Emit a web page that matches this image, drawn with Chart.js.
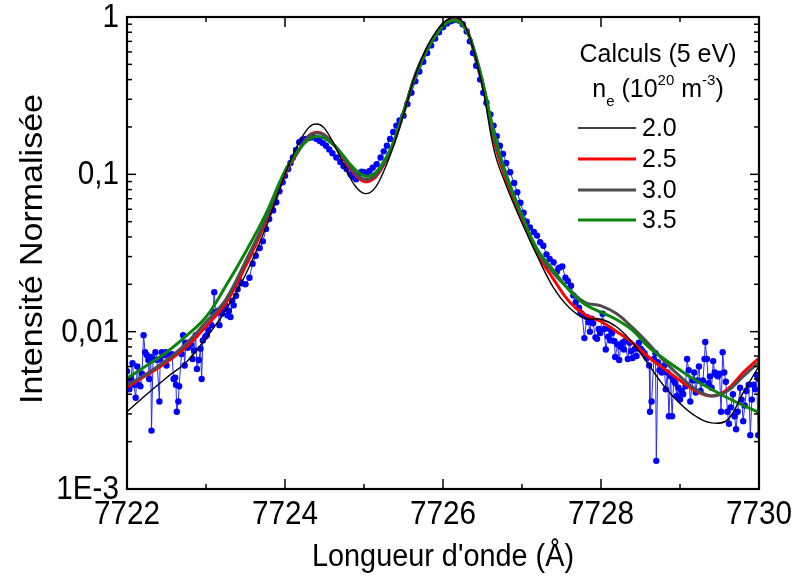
<!DOCTYPE html>
<html>
<head>
<meta charset="utf-8">
<script src="https://cdn.jsdelivr.net/npm/chart.js@4.4.1/dist/chart.umd.min.js"></script>
<style>
  html, body { margin: 0; padding: 0; background: #fff; }
  #wrap { width: 795px; height: 582px; position: relative; }
</style>
</head>
<body>
<div id="wrap"><canvas id="chart"></canvas></div>
<script>
// Measured spectrum: [wavelength (Å), normalised intensity]
const measured = [
  [7722.00,0.0056],[7722.03,0.0043],[7722.05,0.0050],[7722.07,0.0063],[7722.09,0.0046],[7722.11,0.0038],
  [7722.13,0.0060],[7722.15,0.0046],[7722.17,0.0045],[7722.19,0.0054],[7722.21,0.0095],[7722.23,0.0074],
  [7722.25,0.0071],[7722.27,0.0066],[7722.28,0.0050],[7722.30,0.0069],[7722.31,0.00235],[7722.33,0.0067],
  [7722.36,0.0074],[7722.38,0.0066],[7722.41,0.0036],[7722.42,0.0067],[7722.44,0.0074],[7722.47,0.0071],
  [7722.49,0.0074],[7722.50,0.0061],[7722.53,0.0071],[7722.55,0.0069],[7722.57,0.0072],[7722.59,0.0050],
  [7722.61,0.0051],[7722.62,0.0046],[7722.63,0.0031],[7722.65,0.0036],[7722.66,0.0045],[7722.69,0.0072],
  [7722.71,0.0095],[7722.73,0.0061],[7722.745,0.0085],[7722.77,0.0079],[7722.79,0.0085],[7722.81,0.0083],
  [7722.83,0.0067],[7722.85,0.0076],[7722.87,0.0095],[7722.885,0.0058],[7722.91,0.0066],[7722.93,0.0078],
  [7722.945,0.0050],[7722.96,0.0088],[7722.99,0.0093],[7723.01,0.0095],[7723.03,0.0102],[7723.07,0.0110],
  [7723.085,0.0133],[7723.105,0.0178],[7723.12,0.0133],[7723.155,0.0136],[7723.17,0.0110],[7723.20,0.0130],
  [7723.23,0.0140],[7723.25,0.0147],[7723.27,0.0127],[7723.29,0.0136],[7723.31,0.0124],[7723.33,0.0157],
  [7723.35,0.0147],[7723.38,0.0169],[7723.40,0.0186],[7723.42,0.0211],[7723.45,0.0203],[7723.50,0.0200],
  [7723.55,0.0220],[7723.59,0.0270],[7723.63,0.0304],[7723.68,0.0340],[7723.72,0.0375],[7723.76,0.0450],
  [7723.80,0.052],[7723.85,0.059],[7723.89,0.0665],[7723.93,0.078],[7723.97,0.089],[7724.00,0.098],
  [7724.04,0.108],[7724.07,0.118],[7724.10,0.128],[7724.14,0.143],[7724.18,0.160],[7724.22,0.166],
  [7724.26,0.168],[7724.31,0.171],[7724.35,0.172],[7724.40,0.168],[7724.44,0.163],[7724.48,0.158],
  [7724.52,0.152],[7724.56,0.144],[7724.60,0.136],[7724.65,0.128],[7724.70,0.120],[7724.74,0.113],
  [7724.78,0.108],[7724.83,0.100],[7724.87,0.096],[7724.90,0.093],[7724.94,0.101],[7724.97,0.104],
  [7725.00,0.103],[7725.03,0.100],[7725.07,0.105],[7725.11,0.110],[7725.16,0.116],[7725.21,0.128],
  [7725.25,0.140],[7725.29,0.152],[7725.33,0.168],[7725.37,0.186],[7725.41,0.204],[7725.45,0.220],
  [7725.50,0.236],[7725.55,0.28],[7725.60,0.33],[7725.65,0.39],[7725.70,0.45],[7725.75,0.52],
  [7725.80,0.59],[7725.85,0.66],[7725.90,0.73],[7725.95,0.80],[7726.00,0.86],[7726.05,0.91],
  [7726.10,0.94],[7726.15,0.96],[7726.20,0.95],[7726.25,0.90],[7726.30,0.81],[7726.34,0.70],
  [7726.38,0.59],[7726.42,0.49],[7726.47,0.40],[7726.51,0.33],[7726.55,0.285],[7726.60,0.24],
  [7726.64,0.204],[7726.68,0.175],[7726.72,0.152],[7726.76,0.135],[7726.80,0.118],[7726.85,0.103],
  [7726.90,0.088],[7726.94,0.077],[7726.98,0.066],[7727.02,0.057],[7727.06,0.050],[7727.10,0.046],
  [7727.15,0.043],[7727.19,0.0408],[7727.23,0.037],[7727.27,0.0352],[7727.31,0.031],[7727.35,0.029],
  [7727.40,0.0276],[7727.44,0.024],[7727.47,0.0255],[7727.51,0.026],[7727.55,0.022],[7727.58,0.021],
  [7727.62,0.0196],[7727.65,0.0170],[7727.68,0.0154],[7727.72,0.0142],[7727.74,0.0132],[7727.76,0.0129],
  [7727.79,0.0091],[7727.82,0.0124],[7727.84,0.0115],[7727.86,0.0100],[7727.88,0.0121],[7727.90,0.0113],
  [7727.93,0.0092],[7727.95,0.0090],[7727.97,0.0104],[7727.99,0.0098],[7728.02,0.0130],[7728.04,0.0104],
  [7728.06,0.0077],[7728.09,0.0093],[7728.11,0.0104],[7728.12,0.0088],[7728.14,0.0098],[7728.17,0.0087],
  [7728.18,0.0069],[7728.21,0.0083],[7728.23,0.0066],[7728.25,0.0080],[7728.27,0.0085],[7728.29,0.0077],
  [7728.30,0.0087],[7728.34,0.0067],[7728.36,0.0085],[7728.38,0.0075],[7728.40,0.0068],[7728.43,0.0078],
  [7728.45,0.0070],[7728.48,0.0085],[7728.50,0.0078],[7728.52,0.0076],[7728.55,0.0073],[7728.58,0.0068],
  [7728.61,0.0061],[7728.62,0.0031],[7728.64,0.0036],[7728.67,0.0067],[7728.69,0.0073],[7728.70,0.00151],
  [7728.72,0.0064],[7728.74,0.0057],[7728.77,0.0055],[7728.80,0.0061],[7728.82,0.0043],[7728.84,0.0055],
  [7728.86,0.0029],[7728.88,0.0052],[7728.90,0.0029],[7728.92,0.0049],[7728.94,0.0047],[7728.96,0.0039],
  [7728.98,0.0044],[7729.00,0.0037],[7729.02,0.0042],[7729.04,0.0040],[7729.07,0.0045],[7729.09,0.0067],
  [7729.11,0.0057],[7729.13,0.0036],[7729.16,0.0049],[7729.18,0.0055],[7729.20,0.0041],[7729.22,0.0049],
  [7729.24,0.0060],[7729.26,0.0042],[7729.29,0.0049],[7729.31,0.0067],[7729.32,0.0086],[7729.34,0.0067],
  [7729.36,0.0047],[7729.38,0.0052],[7729.40,0.0044],[7729.42,0.0065],[7729.44,0.0055],[7729.46,0.0053],
  [7729.48,0.0052],[7729.50,0.0054],[7729.52,0.0031],[7729.54,0.0074],[7729.56,0.0055],[7729.58,0.0048],
  [7729.60,0.0031],[7729.62,0.0026],[7729.64,0.0033],[7729.67,0.0040],[7729.69,0.0029],[7729.71,0.0024],
  [7729.73,0.0031],[7729.76,0.0044],[7729.78,0.0037],[7729.80,0.0027],[7729.82,0.0034],[7729.84,0.0042],
  [7729.87,0.0046],[7729.89,0.0022],[7729.91,0.0037],[7729.93,0.0046],[7729.95,0.0043],[7729.97,0.0053],
  [7729.99,0.0022],[7730.00,0.0050]
];

// Calculated profiles (5 eV), sampled on a common wavelength grid
const calcLambda = [
  7722, 7722.25, 7722.5, 7722.75, 7723, 7723.25, 7723.5, 7723.75, 7724, 7724.15,
  7724.3, 7724.4, 7724.5, 7724.65, 7724.8, 7724.9, 7725, 7725.1, 7725.2, 7725.35,
  7725.5, 7725.65, 7725.8, 7725.95, 7726.05, 7726.15, 7726.25, 7726.35, 7726.5, 7726.65,
  7726.8, 7727, 7727.2, 7727.4, 7727.6, 7727.8, 7728, 7728.2, 7728.4, 7728.6,
  7728.8, 7729, 7729.2, 7729.4, 7729.6, 7729.8, 7730
];
const calcNe20 = [
  0.0031, 0.0040, 0.0051, 0.0064, 0.0091, 0.0137, 0.023, 0.045, 0.100, 0.150,
  0.198, 0.209, 0.196, 0.145, 0.100, 0.083, 0.0757, 0.078, 0.092, 0.140,
  0.240, 0.43, 0.65, 0.86, 0.96, 1.0, 0.93, 0.71, 0.36, 0.14,
  0.085, 0.049, 0.0297, 0.019, 0.0142, 0.0121, 0.0120, 0.0107, 0.0085, 0.0062,
  0.0045, 0.0035, 0.0029, 0.00263, 0.00275, 0.0041, 0.00605
];
const calcNe25 = [
  0.00445, 0.0053, 0.0064, 0.0080, 0.0108, 0.0152, 0.026, 0.049, 0.100, 0.135,
  0.175, 0.185, 0.178, 0.147, 0.113, 0.098, 0.090, 0.092, 0.104, 0.145,
  0.245, 0.43, 0.63, 0.84, 0.94, 0.97, 0.91, 0.72, 0.38, 0.16,
  0.092, 0.052, 0.031, 0.0215, 0.0155, 0.0128, 0.0116, 0.0100, 0.0085, 0.0069,
  0.0058, 0.0049, 0.0042, 0.0039, 0.0043, 0.0055, 0.0068
];
const calcNe30 = [
  0.00458, 0.0054, 0.0066, 0.0084, 0.0115, 0.016, 0.028, 0.051, 0.102, 0.136,
  0.174, 0.183, 0.177, 0.148, 0.116, 0.100, 0.093, 0.095, 0.106, 0.147,
  0.245, 0.43, 0.63, 0.83, 0.93, 0.96, 0.90, 0.72, 0.385, 0.17,
  0.097, 0.054, 0.032, 0.0235, 0.0185, 0.0153, 0.0146, 0.0130, 0.0106, 0.0084,
  0.0065, 0.0052, 0.0043, 0.0039, 0.0042, 0.0052, 0.0064
];
const calcNe35 = [
  0.00505, 0.0061, 0.0074, 0.0094, 0.0124, 0.0195, 0.032, 0.055, 0.105, 0.138,
  0.167, 0.174, 0.170, 0.148, 0.120, 0.106, 0.098, 0.099, 0.110, 0.150,
  0.250, 0.42, 0.62, 0.82, 0.92, 0.95, 0.89, 0.72, 0.39, 0.18,
  0.100, 0.055, 0.033, 0.0245, 0.0183, 0.0149, 0.0133, 0.0119, 0.0102, 0.0080,
  0.0067, 0.0057, 0.0049, 0.0043, 0.0038, 0.0034, 0.00307
];

const seriesLabels = ["2.0", "2.5", "3.0", "3.5"];

// Axis ticks
const xTicks      = [7722, 7723, 7724, 7725, 7726, 7727, 7728, 7729, 7730];
const xTickLabels = ["7722", "", "7724", "", "7726", "", "7728", "", "7730"];
const yTicks      = [1, 0.1, 0.01, 0.001];
const yTickLabels = ["1", "0,1", "0,01", "1E-3"];

const FONT = '"Liberation Sans", Arial, sans-serif';

function toPoints(ys) {
  return calcLambda.map((x, i) => ({ x: x, y: ys[i] }));
}

// text squeezed a little horizontally, like the original export
function squeezedText(ctx, text, x, y, sx) {
  ctx.save();
  ctx.translate(x, y);
  ctx.scale(sx, 1);
  ctx.fillText(text, 0, 0);
  ctx.restore();
}

// ---------------------------------------------------------------------------
// Frame, inward ticks, labels and the legend block
// ---------------------------------------------------------------------------

const framePlugin = {
  id: "frame",
  afterDatasetsDraw(chart) {
    const { ctx, chartArea: a, scales } = chart;
    const xs = scales.x, ys = scales.y;
    ctx.save();

    const seg = (x1, y1, x2, y2) => {
      ctx.beginPath(); ctx.moveTo(x1, y1); ctx.lineTo(x2, y2); ctx.stroke();
    };

    ctx.strokeStyle = "#000";
    ctx.lineWidth = 1.5;

    // x ticks (bottom and top, pointing inward)
    xTicks.forEach((v, i) => {
      const px = xs.getPixelForValue(v);
      const len = xTickLabels[i] ? 10 : 5;
      seg(px, a.bottom, px, a.bottom - len);
      seg(px, a.top, px, a.top + len);
    });

    // y ticks: decades plus 2..9 minors
    yTicks.forEach(v => {
      const py = ys.getPixelForValue(v);
      seg(a.left, py, a.left + 9, py);
      seg(a.right, py, a.right - 9, py);
      if (v < 1) {
        for (let m = 2; m <= 9; m++) {
          const pm = ys.getPixelForValue(v * m);
          seg(a.left, pm, a.left + 5, pm);
          seg(a.right, pm, a.right - 5, pm);
        }
      }
    });

    ctx.lineWidth = 2.2;
    ctx.strokeRect(a.left, a.top, a.right - a.left, a.bottom - a.top);

    // tick labels
    ctx.fillStyle = "#000";
    ctx.font = "33px " + FONT;
    ctx.textAlign = "center";
    ctx.textBaseline = "alphabetic";
    xTicks.forEach((v, i) => {
      if (xTickLabels[i]) squeezedText(ctx, xTickLabels[i], xs.getPixelForValue(v), a.bottom + 35, 0.9);
    });
    ctx.textAlign = "right";
    ctx.textBaseline = "middle";
    yTicks.forEach((v, i) => {
      squeezedText(ctx, yTickLabels[i], a.left - 8, ys.getPixelForValue(v) + 1, 0.9);
    });

    // axis titles
    ctx.textAlign = "center";
    ctx.textBaseline = "alphabetic";
    ctx.font = "31px " + FONT;
    squeezedText(ctx, "Longueur d'onde (Å)", (a.left + a.right) / 2, 566, 0.93);
    ctx.save();
    ctx.translate(42, 249);
    ctx.rotate(-Math.PI / 2);
    ctx.font = "34px " + FONT;
    ctx.scale(1, 0.93);
    ctx.fillText("Intensité Normalisée", 0, 0);
    ctx.restore();

    // legend block
    const cx = 658;
    ctx.font = "25px " + FONT;
    ctx.fillText("Calculs (5 eV)", cx, 62);

    const parts = [
      ["n", 25, 0], ["e", 15, 9], [" (10", 25, 0], ["20", 15, -12],
      [" m", 25, 0], ["-3", 15, -12], [")", 25, 0]
    ];
    let total = 0;
    parts.forEach(p => { ctx.font = p[1] + "px " + FONT; total += ctx.measureText(p[0]).width; });
    let tx = cx - total / 2;
    ctx.textAlign = "left";
    parts.forEach(p => {
      ctx.font = p[1] + "px " + FONT;
      ctx.fillText(p[0], tx, 97 + p[2]);
      tx += ctx.measureText(p[0]).width;
    });

    const rows = [128, 159, 190, 220];
    ctx.font = "25px " + FONT;
    ctx.textBaseline = "middle";
    chart.data.datasets.slice(1).forEach((ds, i) => {
      ctx.strokeStyle = ds.borderColor;
      ctx.lineWidth = ds.borderWidth;
      seg(578, rows[i], 636, rows[i]);
      ctx.fillText(seriesLabels[i], 642, rows[i] + 1);
    });

    ctx.restore();
  }
};

new Chart(document.getElementById("chart"), {
  type: "scatter",
  data: {
    datasets: [
      {
        label: "Mesure",
        data: measured.map(([x, y]) => ({ x, y })),
        showLine: true,
        borderColor: "#2a2aff",
        borderWidth: 1,
        pointRadius: 3.2,
        pointBackgroundColor: "#0000ff",
        pointBorderWidth: 0,
        tension: 0,
        clip: 0,
        order: 5,
      },
      {
        label: seriesLabels[0], data: toPoints(calcNe20), showLine: true,
        borderColor: "#000000", borderWidth: 1.4, pointRadius: 0, tension: 0.4, clip: 0, order: 0,
      },
      {
        label: seriesLabels[1], data: toPoints(calcNe25), showLine: true,
        borderColor: "#ff0000", borderWidth: 3, pointRadius: 0, tension: 0.4, clip: 0, order: 3,
      },
      {
        label: seriesLabels[2], data: toPoints(calcNe30), showLine: true,
        borderColor: "#4d4d4d", borderWidth: 3, pointRadius: 0, tension: 0.4, clip: 0, order: 2,
      },
      {
        label: seriesLabels[3], data: toPoints(calcNe35), showLine: true,
        borderColor: "#0a840a", borderWidth: 3, pointRadius: 0, tension: 0.4, clip: 0, order: 1,
      },
    ],
  },
  options: {
    responsive: true,
    maintainAspectRatio: false,
    animation: false,
    events: [],
    layout: { padding: { left: 127, right: 36, top: 17, bottom: 93 } },
    plugins: { legend: { display: false }, tooltip: { enabled: false } },
    scales: {
      x: { type: "linear", min: 7722, max: 7730, display: false },
      y: { type: "logarithmic", min: 0.001, max: 1, display: false },
    },
  },
  plugins: [framePlugin],
});
</script>
</body>
</html>
